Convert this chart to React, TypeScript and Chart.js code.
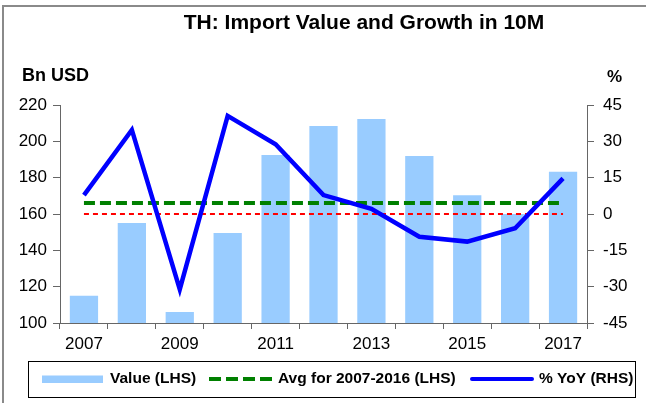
import React, { useEffect, useRef } from 'react';
import { Chart, registerables } from 'chart.js';

Chart.register(...registerables);

const chartTitle = 'TH: Import Value and Growth in 10M';
const leftUnit = 'Bn USD';
const rightUnit = '%';

const years = ['2007', '2008', '2009', '2010', '2011', '2012', '2013', '2014', '2015', '2016', '2017'];
const importValue = [115, 155, 106, 149.5, 192.5, 208.4, 212.3, 191.9, 170.3, 160, 183.3];
const yoyGrowth = [7.8, 34.7, -31.1, 40.5, 28.8, 7.8, 2.1, -9.4, -11.4, -5.9, 14.7];
const avgLine = [166.1, 166.1, 166.1, 166.1, 166.1, 166.1, 166.1, 166.1, 166.1, 166.1, 166.1];
const zeroLine = [0, 0, 0, 0, 0, 0, 0, 0, 0, 0, 0];

const valueLabel = 'Value (LHS)';
const avgLabel = 'Avg for 2007-2016 (LHS)';
const yoyLabel = '% YoY (RHS)';

const FONT = '"Liberation Sans", Arial, Helvetica, sans-serif';

const decor = {
  id: 'decor',
  afterDraw(chart: any) {
    const ctx = chart.ctx as CanvasRenderingContext2D;
    ctx.save();
    // frame
    ctx.strokeStyle = '#8a8a8a';
    ctx.lineWidth = 2;
    ctx.beginPath();
    ctx.moveTo(3, 403);
    ctx.lineTo(3, 6);
    ctx.lineTo(646, 6);
    ctx.stroke();

    // title
    ctx.fillStyle = '#000';
    ctx.font = `bold 21px ${FONT}`;
    ctx.textAlign = 'center';
    ctx.textBaseline = 'alphabetic';
    ctx.fillText(chartTitle, 364, 29);

    // units
    ctx.textAlign = 'left';
    ctx.textBaseline = 'middle';
    ctx.font = `bold 18px ${FONT}`;
    ctx.fillText(leftUnit, 22, 76);
    ctx.font = `bold 17px ${FONT}`;
    ctx.fillText(rightUnit, 607, 77);

    // legend
    const ds = chart.data.datasets;
    const bar = ds.find((d: any) => d.label === valueLabel);
    const avg = ds.find((d: any) => d.label === avgLabel);
    const yoy = ds.find((d: any) => d.label === yoyLabel);
    const ly = 379;
    ctx.strokeStyle = '#000';
    ctx.lineWidth = 1;
    ctx.strokeRect(28.5, 361.5, 607, 36);

    ctx.fillStyle = bar.backgroundColor;
    ctx.fillRect(42, ly - 3.5, 61, 7.5);

    ctx.strokeStyle = avg.borderColor;
    ctx.lineWidth = 4;
    ctx.setLineDash([12, 5]);
    ctx.beginPath();
    ctx.moveTo(209, ly);
    ctx.lineTo(273, ly);
    ctx.stroke();
    ctx.setLineDash([]);

    ctx.strokeStyle = yoy.borderColor;
    ctx.lineWidth = 4;
    ctx.lineCap = 'round';
    ctx.beginPath();
    ctx.moveTo(472, ly);
    ctx.lineTo(532, ly);
    ctx.stroke();

    ctx.fillStyle = '#000';
    ctx.font = `bold 15.5px ${FONT}`;
    ctx.textBaseline = 'middle';
    ctx.fillText(valueLabel, 110, ly);
    ctx.fillText(avgLabel, 278, ly);
    ctx.fillText(yoyLabel, 539, ly);
    ctx.restore();
  },
};

export default function App() {
  const ref = useRef<HTMLCanvasElement>(null);
  useEffect(() => {
    if (!ref.current) return;
    const tickFont = { family: FONT, size: 17 };
    const chart = new Chart(ref.current, {
      type: 'bar',
      data: {
        labels: years,
        datasets: [
          {
            type: 'line',
            label: yoyLabel,
            data: yoyGrowth,
            yAxisID: 'y1',
            borderColor: '#0000ff',
            backgroundColor: '#0000ff',
            borderWidth: 4.5,
            pointRadius: 0,
            tension: 0,
            fill: false,
            order: 0,
          } as any,
          {
            type: 'line',
            label: avgLabel,
            data: avgLine,
            yAxisID: 'y',
            borderColor: '#008000',
            borderWidth: 4,
            borderDash: [11, 5],
            pointRadius: 0,
            fill: false,
            order: 1,
          } as any,
          {
            type: 'line',
            label: 'zero',
            data: zeroLine,
            yAxisID: 'y1',
            borderColor: '#ff0000',
            borderWidth: 2,
            borderDash: [5, 4],
            pointRadius: 0,
            fill: false,
            order: 2,
          } as any,
          {
            type: 'bar',
            label: valueLabel,
            data: importValue,
            yAxisID: 'y',
            backgroundColor: '#99ccff',
            barPercentage: 0.59,
            categoryPercentage: 1,
            order: 3,
          } as any,
        ],
      },
      options: {
        animation: false,
        responsive: false,
        layout: { padding: { top: 105, left: 0, right: 0, bottom: 0 } },
        plugins: {
          legend: { display: false },
          tooltip: { enabled: false },
          title: { display: false },
        },
        scales: {
          x: {
            offset: true,
            grid: {
              display: true,
              offset: true,
              drawOnChartArea: false,
              drawTicks: true,
              tickLength: 6,
              color: '#666',
            },
            border: { color: '#666', width: 1 },
            ticks: {
              autoSkip: false,
              maxRotation: 0,
              padding: 5,
              color: '#000',
              font: tickFont,
              callback: (_v: any, i: number) => (i % 2 === 0 ? years[i] : ''),
            },
            afterFit: (s: any) => {
              s.height = 80;
            },
          },
          y: {
            position: 'left',
            min: 100,
            max: 220,
            ticks: { stepSize: 20, padding: 6, color: '#000', font: tickFont },
            grid: { drawOnChartArea: false, tickLength: 7, color: '#666' },
            border: { color: '#666', width: 1 },
            afterFit: (s: any) => {
              s.width = 60;
            },
          },
          y1: {
            position: 'right',
            min: -45,
            max: 45,
            ticks: { stepSize: 15, padding: 9, color: '#000', font: tickFont },
            grid: { drawOnChartArea: false, tickLength: 7, color: '#666' },
            border: { color: '#666', width: 1 },
            afterFit: (s: any) => {
              s.width = 59;
            },
          },
        },
      } as any,
      plugins: [decor],
    });
    return () => chart.destroy();
  }, []);

  return (
    <div style={{ position: 'absolute', left: 0, top: 0, width: 646, height: 403, background: '#fff' }}>
      <canvas ref={ref} width={646} height={403} style={{ display: 'block' }} />
    </div>
  );
}
